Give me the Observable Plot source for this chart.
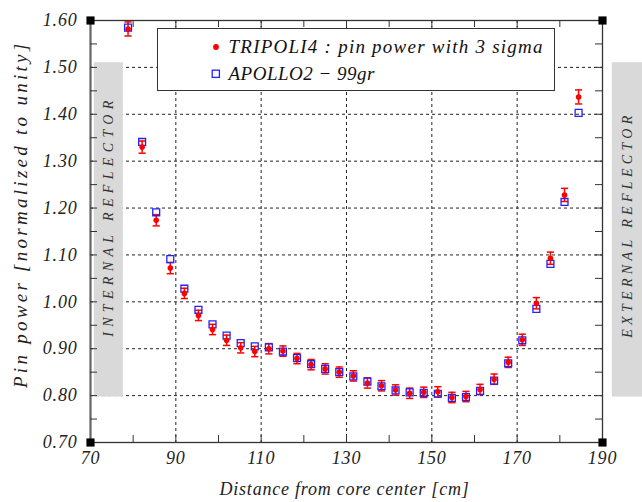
<!DOCTYPE html>
<html>
<head>
<meta charset="utf-8">
<script src="https://cdn.jsdelivr.net/npm/d3@7"></script>
<script src="https://cdn.jsdelivr.net/npm/@observablehq/plot@0.6"></script>
<style>
  html, body { margin: 0; padding: 0; background: white; }
  #wrap { position: relative; width: 642px; height: 502px; }
  #legend {
    position: absolute; left: 157px; top: 28px; width: 396px; height: 61px;
    background: white; border: 1.5px solid #333;
    font-family: "Liberation Serif"; font-style: italic; font-size: 19px; color: #111;
  }
  #legend .row { position: absolute; left: 0; height: 20px; display: flex; align-items: center; white-space: nowrap; }
  #legend .row svg { margin-left: 51.5px; margin-right: 7px; flex: none; }
</style>
</head>
<body>
<div id="wrap">
  <div id="chart"></div>
  <div id="legend">
    <div class="row" style="top:8px"><svg width="12" height="12"><circle cx="6" cy="6" r="2.9" fill="#ff0000"/></svg><span data-w="314">TRIPOLI4 : pin power with 3 sigma</span></div>
    <div class="row" style="top:35px"><svg width="12" height="12"><rect x="2.2" y="2.2" width="7.2" height="7.2" fill="none" stroke="#2222ff" stroke-width="1.3"/></svg><span data-w="146">APOLLO2 − 99gr</span></div>
  </div>
</div>
<script>
// ---- data ----
const distance = [78.8, 82.1, 85.4, 88.7, 92.0, 95.3, 98.6, 101.9, 105.2, 108.5, 111.8, 115.1, 118.4, 121.7, 125.0, 128.3, 131.6, 134.9, 138.2, 141.5, 144.8, 148.1, 151.4, 154.7, 158.0, 161.3, 164.6, 167.9, 171.2, 174.5, 177.8, 181.1, 184.4];
const tripoli4 = [1.582, 1.330, 1.174, 1.072, 1.018, 0.971, 0.941, 0.918, 0.902, 0.894, 0.900, 0.895, 0.879, 0.866, 0.857, 0.850, 0.842, 0.827, 0.821, 0.812, 0.805, 0.807, 0.808, 0.796, 0.798, 0.813, 0.835, 0.871, 0.919, 0.997, 1.093, 1.228, 1.437];
const threeSigma = [0.015, 0.013, 0.012, 0.012, 0.011, 0.011, 0.011, 0.011, 0.011, 0.011, 0.011, 0.011, 0.011, 0.011, 0.011, 0.011, 0.011, 0.011, 0.011, 0.011, 0.011, 0.011, 0.011, 0.011, 0.011, 0.011, 0.011, 0.011, 0.012, 0.012, 0.013, 0.014, 0.015];
const apollo2 = [1.585, 1.341, 1.191, 1.091, 1.028, 0.983, 0.952, 0.928, 0.912, 0.905, 0.903, 0.894, 0.880, 0.867, 0.857, 0.850, 0.841, 0.830, 0.820, 0.811, 0.807, 0.806, 0.804, 0.795, 0.797, 0.810, 0.832, 0.869, 0.918, 0.985, 1.081, 1.213, 1.403];

const xDomain = [70, 190];
const yDomain = [0.70, 1.60];
const xTickLabels = [70, 90, 110, 130, 150, 170, 190];
const xTickMarks = [80, 90, 100, 110, 120, 130, 140, 150, 160, 170, 180];
const xGridLines = [90, 110, 130, 150, 170];
const yTickLabels = [0.70, 0.80, 0.90, 1.00, 1.10, 1.20, 1.30, 1.40, 1.50, 1.60];
const yTickMarks = [0.75, 0.80, 0.85, 0.90, 0.95, 1.00, 1.05, 1.10, 1.15, 1.20, 1.25, 1.30, 1.35, 1.40, 1.45, 1.50, 1.55];
const yGridLines = [0.80, 0.90, 1.00, 1.10, 1.20, 1.30, 1.40, 1.50];
const reflectors = [
  {name: "INTERNAL REFLECTOR", x1: 70.9, x2: 77.7, y1: 0.797, y2: 1.510, ty: 1.178, len: 237},
  {name: "EXTERNAL REFLECTOR", x1: 192.3, x2: 199.4, y1: 0.797, y2: 1.510, ty: 1.161, len: 223}
];
const xTitle = "Distance from core center [cm]";
const yTitle = "Pin power [normalized to unity]";

// ---- layout ----
const W = 642, H = 502, ML = 90, MR = 40, MT = 20, MB = 60;
const frameW = W - ML - MR, frameH = H - MT - MB, tickLen = 7;
const red = "#ff0000", blue = "#2222ff", ink = "#222";

const rows = distance.map((x, i) => ({x, t: tripoli4[i], e: threeSigma[i], a: apollo2[i]}));
const corners = [];
for (const x of xDomain) for (const y of yDomain) corners.push({x, y});
const capSymbol = {draw(ctx, size) { const h = Math.sqrt(size / Math.PI); ctx.moveTo(-h, 0); ctx.lineTo(h, 0); }};

const chart = Plot.plot({
  width: W, height: H,
  marginLeft: ML, marginRight: MR, marginTop: MT, marginBottom: MB,
  x: {domain: xDomain},
  y: {domain: yDomain},
  style: {fontFamily: "Liberation Serif", fontStyle: "italic", fontSize: "18px", letterSpacing: "0.8px", color: ink, background: "white", overflow: "visible"},
  marks: [
    Plot.gridX(xGridLines, {stroke: ink, strokeOpacity: 1, strokeDasharray: "3,3"}),
    Plot.gridY(yGridLines, {stroke: ink, strokeOpacity: 1, strokeDasharray: "3,3"}),
    Plot.rect(reflectors, {x1: "x1", x2: "x2", y1: "y1", y2: "y2", fill: "#d9d9d9", clip: false}),
    Plot.text(reflectors, {x: d => (d.x1 + d.x2) / 2, y: "ty", text: "name", rotate: -90, fontSize: 14, fill: "#333"}),
    Plot.frame({stroke: "#333", strokeWidth: 1.3}),
    Plot.ruleX([xDomain[0]], {stroke: "#666", strokeWidth: 2}),
    Plot.tickX(xTickMarks, {x: d => d, insetTop: frameH - tickLen, stroke: "#333"}),
    Plot.tickX(xTickMarks, {x: d => d, insetBottom: frameH - tickLen, stroke: "#333"}),
    Plot.tickY(yTickMarks, {y: d => d, insetRight: frameW - tickLen, stroke: "#333"}),
    Plot.tickY(yTickMarks, {y: d => d, insetLeft: frameW - tickLen, stroke: "#333"}),
    Plot.axisX(xTickLabels, {tickSize: 0, tickPadding: 9, label: null, fontSize: 18}),
    Plot.axisY(yTickLabels, {tickSize: 0, tickPadding: 13, label: null, fontSize: 18, tickFormat: d => d.toFixed(2)}),
    Plot.dot(corners, {x: "x", y: "y", symbol: "square", fill: "black", r: 4.6}),
    Plot.text([xTitle], {frameAnchor: "bottom", dy: 47, dx: -2, lineAnchor: "middle", textAnchor: "middle", text: d => d, fontSize: 18}),
    Plot.text([yTitle], {frameAnchor: "top", dx: -70 - frameW / 2, dy: 195, rotate: -90, lineAnchor: "middle", textAnchor: "middle", text: d => d, fontSize: 19}),
    Plot.ruleX(rows, {x: "x", y1: d => d.t - d.e, y2: d => d.t + d.e, stroke: red, strokeWidth: 1.5}),
    Plot.dot(rows, {x: "x", y: d => d.t - d.e, symbol: capSymbol, r: 3.6, stroke: red, strokeWidth: 1.5}),
    Plot.dot(rows, {x: "x", y: d => d.t + d.e, symbol: capSymbol, r: 3.6, stroke: red, strokeWidth: 1.5}),
    Plot.dot(rows, {x: "x", y: "a", symbol: "square", r: 3.9, stroke: blue, strokeWidth: 1.3, fill: "none"}),
    Plot.dot(rows, {x: "x", y: "t", r: 2.8, fill: red, stroke: "none"})
  ]
});
document.getElementById("chart").appendChild(chart);

// fit text lengths to the reference's spans
const textLengths = new Map([[xTitle, 250], [yTitle, 345], ...reflectors.map(d => [d.name, d.len])]);
d3.select(chart).selectAll("text").each(function() {
  const len = textLengths.get(this.textContent);
  if (len) { this.setAttribute("textLength", len); this.setAttribute("lengthAdjust", "spacing"); }
});
document.querySelectorAll("#legend span").forEach(s => {
  const target = +s.dataset.w, n = s.textContent.length;
  const w0 = s.getBoundingClientRect().width;
  s.style.letterSpacing = ((target - w0) / (n - 1)) + "px";
});
</script>
</body>
</html>
